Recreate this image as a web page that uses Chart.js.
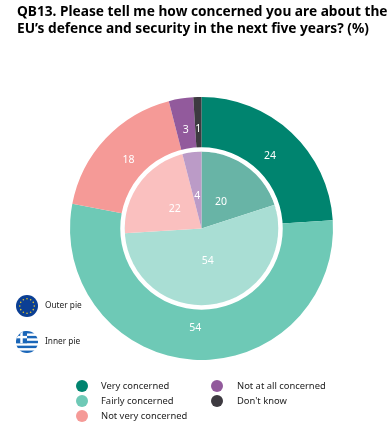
<!DOCTYPE html>
<html>
<head>
<meta charset="utf-8">
<style>
html, body { margin: 0; padding: 0; background: #fff; }
canvas { display: block; }
</style>
<script src="https://cdn.jsdelivr.net/npm/chart.js@4"></script>
</head>
<body>
<canvas id="pie" width="389" height="425"></canvas>
<script>
const titleLines = ['QB13. Please tell me how concerned you are about the', 'EU\u2019s defence and security in the next five years? (%)'];
const categories = ['Very concerned', 'Fairly concerned', 'Not very concerned', 'Not at all concerned', "Don't know"];
const outerValues = [24, 54, 18, 3, 1];
const innerValues = [20, 54, 22, 4, 0];
const outerColors = ['#00846f', '#6ec9b6', '#f59a97', '#925a9c', '#3d3a40'];
const innerColors = ['#68b4a6', '#a9ded4', '#fac0bf', '#bb9bc7', '#8a888c'];
const fontName = '"Noto Sans", sans-serif';

function drawEuFlag(ctx, x, y, r) {
    ctx.save();
    ctx.fillStyle = '#0b3f94';
    ctx.beginPath();
    ctx.arc(x, y, r, 0, Math.PI * 2);
    ctx.fill();
    ctx.fillStyle = '#e3c52c';
    for (let i = 0; i < 12; i++) {
        const a = i * Math.PI / 6;
        ctx.beginPath();
        ctx.arc(x + Math.cos(a) * r * 0.66, y + Math.sin(a) * r * 0.66, 0.8, 0, Math.PI * 2);
        ctx.fill();
    }
    ctx.restore();
}

function drawGreekFlag(ctx, x, y, r) {
    ctx.save();
    ctx.beginPath();
    ctx.arc(x, y, r, 0, Math.PI * 2);
    ctx.clip();
    ctx.fillStyle = '#fff';
    ctx.fillRect(x - r, y - r, r * 2, r * 2);
    ctx.fillStyle = '#1a66b8';
    const stripe = r * 2 / 9;
    for (let i = 0; i < 9; i += 2) {
        ctx.fillRect(x - r, y - r + i * stripe, r * 2, stripe);
    }
    // canton with the white cross
    ctx.fillRect(x - r, y - r, r, stripe * 5);
    ctx.fillStyle = '#fff';
    ctx.fillRect(x - r, y - r + stripe * 2, r, stripe);
    ctx.fillRect(x - r / 2 - stripe / 2, y - r, stripe, stripe * 5);
    ctx.restore();
}

// Values on the slices, white ring between the pies, title, flags and legend
const extras = {
    id: 'extras',
    afterDatasetsDraw(chart) {
        const ctx = chart.ctx;
        const outerMeta = chart.getDatasetMeta(0);
        const innerMeta = chart.getDatasetMeta(1);
        const cx = outerMeta.data[0].x;
        const cy = outerMeta.data[0].y;
        const ringRadius = innerMeta.data[0].outerRadius + 2;

        ctx.save();
        ctx.strokeStyle = '#fff';
        ctx.lineWidth = 4.5;
        ctx.beginPath();
        ctx.arc(cx, cy, ringRadius, 0, Math.PI * 2);
        ctx.stroke();

        ctx.fillStyle = '#fff';
        ctx.font = '10.5px ' + fontName;
        ctx.textAlign = 'center';
        ctx.textBaseline = 'middle';
        [[outerMeta, outerValues, 100], [innerMeta, innerValues, 33]].forEach(function (ring) {
            ring[0].data.forEach(function (arc, i) {
                if (!ring[1][i]) return;
                const mid = (arc.startAngle + arc.endAngle) / 2;
                ctx.fillText(ring[1][i], cx + Math.cos(mid) * ring[2], cy + Math.sin(mid) * ring[2]);
            });
        });

        ctx.fillStyle = '#000';
        ctx.textAlign = 'left';
        ctx.font = 'bold 13.7px ' + fontName;
        ctx.fillText(titleLines[0], 17, 12);
        ctx.fillText(titleLines[1], 17, 29);

        ctx.fillStyle = '#222';
        ctx.font = '8.3px ' + fontName;
        drawEuFlag(ctx, 27, 306, 11);
        drawGreekFlag(ctx, 27, 342, 11);
        ctx.fillText('Outer pie', 45, 306);
        ctx.fillText('Inner pie', 45, 342);

        ctx.font = '9.4px ' + fontName;
        const legendX = [82, 82, 82, 217, 217];
        const legendY = [386, 401, 416, 386, 401];
        const textGap = [19, 19, 19, 20, 20];
        categories.forEach(function (name, i) {
            ctx.fillStyle = outerColors[i];
            ctx.beginPath();
            ctx.arc(legendX[i], legendY[i], 6, 0, Math.PI * 2);
            ctx.fill();
            ctx.fillStyle = '#222';
            ctx.fillText(name, legendX[i] + textGap[i], legendY[i]);
        });
        ctx.restore();
    }
};

new Chart(document.getElementById('pie').getContext('2d'), {
    type: 'doughnut',
    data: {
        labels: categories,
        datasets: [
            { label: 'Outer pie', data: outerValues, backgroundColor: outerColors, borderWidth: 0, weight: 54.5 },
            { label: 'Inner pie', data: innerValues, backgroundColor: innerColors, borderWidth: 0, weight: 77 }
        ]
    },
    options: {
        responsive: false,
        animation: false,
        cutout: 0,
        layout: { padding: { left: 70, right: 56, top: 97, bottom: 65 } },
        plugins: { legend: { display: false }, tooltip: { enabled: false } }
    },
    plugins: [extras]
});
</script>
</body>
</html>
